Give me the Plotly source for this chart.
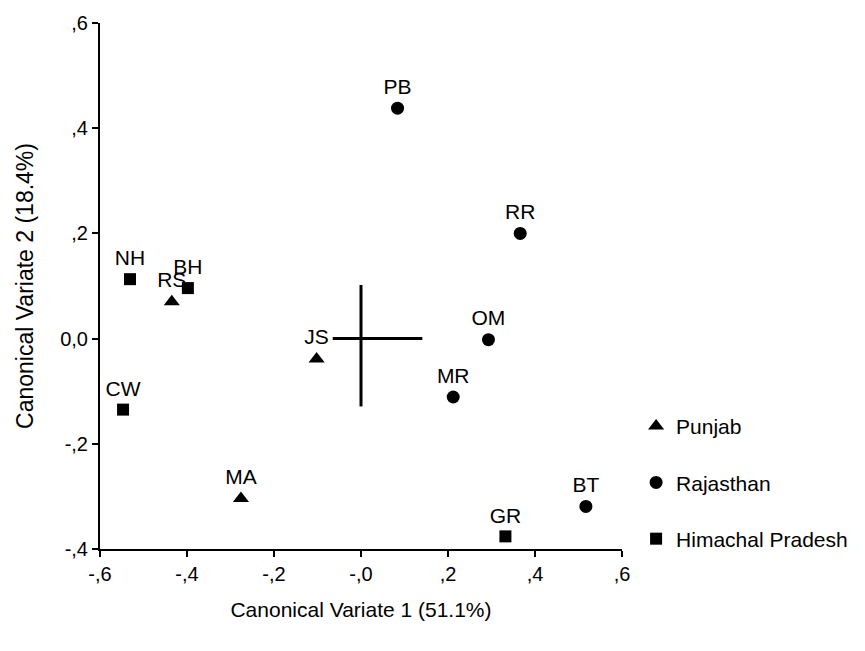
import plotly.graph_objects as go

# Data
punjab_names = ["RS", "JS", "MA"]
punjab_x = [-0.435, -0.102, -0.276]
punjab_y = [0.070, -0.039, -0.304]

rajasthan_names = ["PB", "RR", "OM", "MR", "BT"]
rajasthan_x = [0.084, 0.366, 0.293, 0.212, 0.517]
rajasthan_y = [0.438, 0.200, -0.002, -0.111, -0.319]

himachal_names = ["NH", "BH", "CW", "GR"]
himachal_x = [-0.531, -0.398, -0.547, 0.332]
himachal_y = [0.113, 0.096, -0.135, -0.376]

# Crosshair (centroid spread)
cross_h_x = [-0.065, 0.141]
cross_h_y = [0.0, 0.0]
cross_v_x = [0.0, 0.0]
cross_v_y = [0.102, -0.129]

tick_vals_x = [-0.6, -0.4, -0.2, 0.0, 0.2, 0.4, 0.6]
tick_text_x = ["-,6", "-,4", "-,2", "-,0", ",2", ",4", ",6"]
tick_vals_y = [-0.4, -0.2, 0.0, 0.2, 0.4, 0.6]
tick_text_y = ["-,4", "-,2", "0,0", ",2", ",4", ",6"]

FONT = "Liberation Sans, Arial, sans-serif"

fig = go.Figure()

fig.add_trace(go.Scatter(x=cross_h_x, y=cross_h_y, mode="lines",
                         line=dict(color="black", width=3), showlegend=False, hoverinfo="skip"))
fig.add_trace(go.Scatter(x=cross_v_x, y=cross_v_y, mode="lines",
                         line=dict(color="black", width=3), showlegend=False, hoverinfo="skip"))

def add_group(names, xs, ys, symbol, size, label):
    fig.add_trace(go.Scatter(
        x=xs, y=ys, mode="markers+text", text=names,
        textposition="top center",
        textfont=dict(family=FONT, size=21, color="black"),
        marker=dict(symbol=symbol, size=size, color="black"),
        name=label, legendgroup=label, cliponaxis=False))

add_group(punjab_names, punjab_x, punjab_y, "triangle-up", 14, "Punjab")
add_group(rajasthan_names, rajasthan_x, rajasthan_y, "circle", 13, "Rajasthan")
add_group(himachal_names, himachal_x, himachal_y, "square", 12, "Himachal Pradesh")

axis_common = dict(showline=True, linecolor="black", linewidth=2, ticks="outside",
                   ticklen=6, tickwidth=2, tickcolor="black", showgrid=False, zeroline=False,
                   tickfont=dict(family=FONT, size=20, color="black"))

fig.update_layout(
    width=865, height=651,
    margin=dict(l=100, r=242, t=17, b=102),
    paper_bgcolor="white", plot_bgcolor="white",
    font=dict(family=FONT, color="black"),
    xaxis=dict(range=[-0.6, 0.6], tickvals=tick_vals_x, ticktext=tick_text_x,
               title=dict(text="Canonical Variate 1 (51.1%)", font=dict(family=FONT, size=21), standoff=18),
               **axis_common),
    yaxis=dict(range=[-0.4, 0.6], tickvals=tick_vals_y, ticktext=tick_text_y,
               title=dict(text="Canonical Variate 2 (18.4%)", font=dict(family=FONT, size=23), standoff=20),
               **axis_common),
    legend=dict(x=1.027, y=0.272, xanchor="left", yanchor="top",
                font=dict(family=FONT, size=21, color="black"),
                traceorder="grouped", tracegroupgap=26, itemwidth=30,
                bgcolor="rgba(0,0,0,0)"),
)

fig.write_html("out.html")
